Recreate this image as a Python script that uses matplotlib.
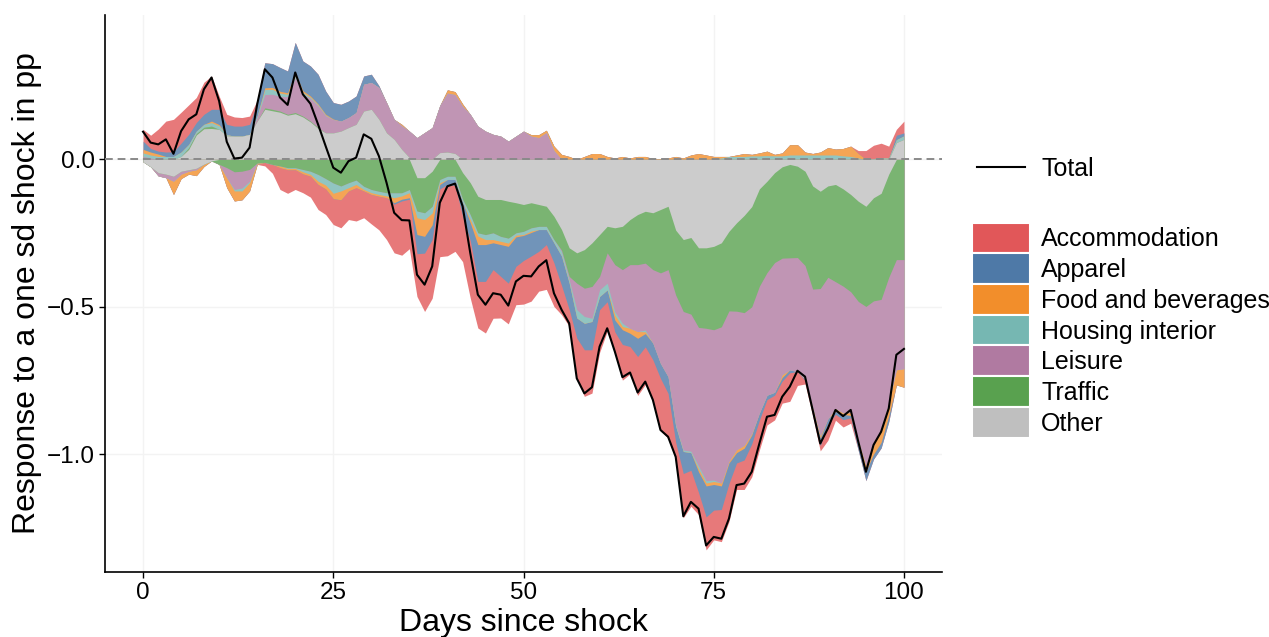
import numpy as np
import matplotlib
matplotlib.use("Agg")
import matplotlib.pyplot as plt
from matplotlib.patches import Rectangle
from matplotlib.lines import Line2D
from matplotlib.colors import to_rgb

plt.rcParams["font.family"] = ["Liberation Sans", "DejaVu Sans"]

# ---------------- data ----------------
days = np.arange(0, 101)

total = [0.094, 0.057, 0.051, 0.068, 0.019, 0.096, 0.136, 0.153, 0.238, 0.278,
         0.198, 0.060, 0.003, 0.006, 0.040, 0.187, 0.306, 0.278, 0.210, 0.185,
         0.295, 0.221, 0.189, 0.119, 0.045, -0.028, -0.045, -0.006, 0.006, 0.085,
         0.070, 0.011, -0.079, -0.181, -0.206, -0.207, -0.391, -0.425, -0.363, -0.147,
         -0.091, -0.082, -0.159, -0.317, -0.459, -0.493, -0.454, -0.459, -0.496, -0.414,
         -0.395, -0.397, -0.363, -0.342, -0.454, -0.510, -0.556, -0.743, -0.794, -0.773,
         -0.635, -0.573, -0.652, -0.739, -0.723, -0.791, -0.754, -0.816, -0.918, -0.941,
         -1.009, -1.211, -1.162, -1.185, -1.310, -1.281, -1.287, -1.219, -1.105, -1.100,
         -1.060, -0.964, -0.873, -0.867, -0.805, -0.771, -0.717, -0.737, -0.850, -0.964,
         -0.913, -0.850, -0.871, -0.850, -0.958, -1.060, -0.969, -0.924, -0.845, -0.663,
         -0.643]

# positive contributions
other_up = [0, 0, 0, 0, 0, .01, .034, .083, .104, .105,
            .102, .08, .079, .079, .085, .13, .17, .165, .16, .15,
            .155, .144, .127, .105, .09, .09, .096, .108, .119, .164,
            .17, .136, .09, .068, .034, .006, 0, 0, 0, .023,
            .025, .02, 0, 0, 0, 0, 0, 0, 0, 0,
            0, 0, 0, 0, 0, 0, 0, 0, 0, 0,
            0, 0, 0, 0, 0, 0, 0, 0, 0, 0,
            0, 0, 0, 0, 0, 0, 0, 0, 0, 0,
            0, 0, 0, 0, 0, 0, 0, 0, 0, 0,
            0, 0, 0, 0, 0, 0, 0, 0, 0, .057,
            .068]
traffic_up = [0, 0, 0, 0, 0, 0, .006, .005, .005, .008,
              0, 0, 0, 0, 0, 0, .005, .005, .004, .003,
              .004, .003, .003, .003] + [0] * 77
leisure_up = [.01, .005, 0, 0, 0, 0, 0, 0, 0, 0,
              0, 0, 0, 0, 0, .012, .045, .051, .05, .06,
              .118, .074, .077, .074, .058, .045, .034, .034, .04, .091,
              .091, .108, .103, .068, .08, .09, .074, .091, .108, .16,
              .2, .2, .18, .153, .113, .096, .085, .079, .062, .079,
              .096, .079, .074, .091, .03] + [0] * 46
housing_up = [.012, .01, .01, .01, .01, .015, .011, .008, .01, .012,
              .012, .004, 0, 0, 0, .006, .017, .017, .011, .008,
              .006, .006, .004, .003, .002, 0, 0, 0, 0, 0] + [0] * 46 + \
             [.005, .01, .01, .01, .012, .012, .013, .012, .012, .015,
              .015, .015, .015, .015, .015, .015, .012, .01, .005, 0,
              .003, .005, .005, .01, .012]
food_up = [.012, .01, .008, 0, 0, 0, 0, 0, 0, .005,
           .004, 0, 0, 0, 0, 0, .006, .006, .006, .005,
           .012, .006, .004, .003, .003, .002, 0, 0, 0, 0,
           0, 0, 0, 0, .005, 0, 0, 0, 0, 0,
           .011, .01, .008, 0, 0, 0, 0, 0, 0, 0,
           0, .005, .01, .008, .015, .017, .01, 0, .01, .02,
           .02, .01, .005, .01, .005, .01, .01, .003, .003, .005,
           .01, .005, .015, .02, .015, .01, .005, 0, .005, .01,
           .005, .01, .015, .005, .01, .035, .035, .01, .005, .01,
           .025, .02, .025, .035, .015, 0, 0, 0, 0, 0,
           0]
apparel_up = [.028, .012, .01, .015, .016, .03, .034, .029, .034, .04,
              .052, .035, .034, .034, .034, .043, .085, .081, .081, .074,
              .102, .101, .102, .101, .079, .056, .057, .056, .056, .028,
              .028, .006] + [0] * 67 + [.015, .01]
accommodation_up = [.04, .045, .075, .105, .11, .105, .1, .085, .109, .113,
                    .045, .034, .031, .029, .028, .01] + [0] * 78 + \
                   [.01, .03, .045, .05, .04, .02, .04]

# negative contributions
other_down = [-.008, -.025, -.045, -.05, -.057, -.04, -.035, -.03, -.016, -.005,
              0, 0, 0, 0, 0, 0, 0, 0, 0, 0,
              0, 0, 0, 0, 0, 0, 0, 0, 0, 0,
              0, 0, 0, 0, 0, 0, -.062, -.062, -.04, 0,
              0, 0, -.045, -.079, -.125, -.136, -.136, -.136, -.142, -.147,
              -.153, -.147, -.153, -.159, -.193, -.238, -.3, -.317, -.306, -.283,
              -.255, -.227, -.232, -.227, -.204, -.187, -.176, -.181, -.17, -.159,
              -.24, -.272, -.265, -.3, -.3, -.295, -.283, -.244, -.215, -.19,
              -.16, -.1, -.074, -.045, -.025, -.017, -.023, -.04, -.09, -.108,
              -.09, -.085, -.1, -.119, -.142, -.159, -.13, -.115, -.05, 0,
              0]
traffic_down = [0, 0, 0, 0, 0, 0, 0, 0, 0, 0,
                -.017, -.028, -.042, -.04, -.034, -.012, -.01, -.017, -.022, -.028,
                -.028, -.034, -.04, -.051, -.065, -.08, -.09, -.079, -.07, -.091,
                -.102, -.108, -.113, -.113, -.113, -.102, -.113, -.119, -.119, -.068,
                -.057, -.057, -.09, -.108, -.124, -.119, -.113, -.125, -.125, -.102,
                -.091, -.085, -.074, -.068, -.079, -.07, -.097, -.103, -.131, -.148,
                -.142, -.09, -.125, -.147, -.153, -.17, -.176, -.193, -.215, -.215,
                -.22, -.244, -.26, -.27, -.273, -.283, -.285, -.27, -.3, -.33,
                -.34, -.33, -.31, -.305, -.31, -.317, -.31, -.32, -.35, -.33,
                -.31, -.33, -.33, -.33, -.34, -.34, -.35, -.36, -.35, -.34,
                -.34]
leisure_down = [0, 0, -.011, -.012, -.017, -.01, -.005, -.005, 0, 0,
                0, -.034, -.06, -.057, -.04] + [0] * 40 + \
               [-.005, -.011, -.09, -.096, -.108,
                -.045, -.103, -.16, -.182, -.216, -.227, -.227, -.249, -.307, -.363,
                -.44, -.47, -.465, -.47, -.517, -.51, -.53, -.51, -.47, -.45,
                -.43, -.43, -.416, -.44, -.395, -.38, -.387, -.385, -.4, -.5,
                -.48, -.43, -.43, -.41, -.47, -.54, -.49, -.44, -.425, -.374,
                -.37]
housing_down = [0] * 12 + [-.005, -.01, -.005, 0, 0, 0, 0, -.003,
                           -.003, -.008, -.011, -.023, -.022, -.035, -.017, -.017, -.015, -.011,
                           -.011, -.011, -.011, -.017, -.011, -.011, -.023, -.023, -.023, -.011,
                           -.011, -.011, -.011, -.017, -.011, -.017, -.023, -.017, -.017, -.008,
                           -.011, -.011, -.011, -.011, -.011, -.015, -.011, -.028, -.023, -.011,
                           -.023, -.023, -.011, -.011, 0, 0, -.006, 0, 0, 0,
                           -.005, -.005, -.005, -.01, -.008, -.005] + [0] * 25
food_down = [0, 0, 0, 0, -.045, -.015, -.01, -.02, -.008, 0,
             0, -.034, -.034, -.03, -.028, -.005, 0, 0, -.006, -.004,
             -.004, -.007, -.006, -.011, -.013, -.018, -.03, -.011, -.011, -.005,
             -.006, -.006, -.006, -.017, -.011, -.017, -.057, -.057, -.04, -.006,
             0, 0, 0, -.011, -.029, -.017, -.011, -.011, -.011, -.006,
             -.003, -.005, 0, 0, 0, 0, 0, 0, 0, 0,
             0, 0, -.017, -.011, -.017, -.023, -.006, 0, 0, 0,
             0, 0, 0, -.01, -.01, -.01, -.01, -.006, -.01, -.01,
             -.005, 0, 0, 0, -.01, 0, 0, 0, -.01, -.008,
             0, -.01, -.005, -.01, -.015, -.02, -.03, -.045, -.045, -.051,
             -.063]
apparel_down = [0] * 33 + [-.005, -.006, -.005, -.065, -.057, -.05, -.015,
                           -.017, -.02, -.047, -.06, -.125, -.125, -.091, -.108, -.125, -.1,
                           -.085, -.08, -.074, -.051, -.068, -.1, -.09, -.068, -.09, -.096,
                           -.045, -.04, -.04, -.05, -.045, -.062, -.045, -.057, -.051, -.057,
                           -.055, -.075, -.06, -.07, -.105, -.087, -.08, -.07, -.035, -.04,
                           -.03, -.025, -.015, -.01, -.012, -.01, 0, -.005, -.015, -.025,
                           -.018, -.01, -.018, -.008, -.021, -.031, -.017, -.019, -.02, 0,
                           0]
accommodation_down = [0] * 16 + [-.012, -.03, -.074, -.08,
                                 -.067, -.064, -.071, -.085, -.087, -.088, -.095, -.097, -.113, -.091,
                                 -.1, -.114, -.142, -.165, -.184, -.168, -.145, -.198, -.199, -.23,
                                 -.242, -.224, -.154, -.195, -.158, -.175, -.165, -.141, -.138, -.13,
                                 -.148, -.153, -.135, -.152, -.148, -.099, -.057, -.137, -.158, -.147,
                                 -.145, -.1, -.072, -.121, -.093, -.132, -.128, -.139, -.178, -.152,
                                 -.059, -.15, -.122, -.075, -.112, -.101, -.109, -.129, -.09, -.1,
                                 -.112, -.101, -.086, -.084, -.075, -.097, -.047, -.012, -.005, -.018,
                                 -.055, -.02, -.025, -.018] + [0] * 7

labels = ["Accommodation", "Apparel", "Food and beverages", "Housing interior",
          "Leisure", "Traffic", "Other"]
colors = ["#E15759", "#4E79A7", "#F28E2B", "#76B7B2", "#B07AA1", "#59A14F", "#BFBFBF"]

ups = {"Accommodation": accommodation_up, "Apparel": apparel_up,
       "Food and beverages": food_up, "Housing interior": housing_up,
       "Leisure": leisure_up, "Traffic": traffic_up, "Other": other_up}
downs = {"Accommodation": accommodation_down, "Apparel": apparel_down,
         "Food and beverages": food_down, "Housing interior": housing_down,
         "Leisure": leisure_down, "Traffic": traffic_down, "Other": other_down}


def faded(c, a=0.8):
    r = np.array(to_rgb(c))
    return tuple(a * r + (1 - a))


# ---------------- figure ----------------
W, H = 1269, 637
fig = plt.figure(figsize=(W / 100, H / 100), dpi=100)
ax = fig.add_axes([105 / W, 65 / H, (942 - 105) / W, (572 - 15) / H])

# stack from zero outward: Other first, Accommodation last
stack_order = labels[::-1]
for side in (ups, downs):
    cum = np.cumsum(np.array([side[k] for k in stack_order], dtype=float), axis=0)
    # outermost first so the inner layers cover the seams
    for k in range(len(stack_order) - 1, -1, -1):
        col = faded(colors[labels.index(stack_order[k])])
        ax.fill_between(days, 0, cum[k], color=col, lw=0, zorder=2)

ax.axhline(0, color="#8a8a8a", lw=1.4, ls=(0, (4, 2.5)), zorder=3)
ax.plot(days, total, color="black", lw=1.5, zorder=4)

ax.set_xlim(-5, 105)
ax.set_ylim(-1.40, 0.49)
ax.set_xticks([0, 25, 50, 75, 100])
ax.set_yticks([-1.0, -0.5, 0.0])
ax.set_yticklabels(["\u22121.0", "\u22120.5", "0.0"])
ax.grid(True, color="#f3f3f3", lw=1.0)
ax.set_axisbelow(True)
for s in ("top", "right"):
    ax.spines[s].set_visible(False)
for s in ("left", "bottom"):
    ax.spines[s].set_linewidth(1.2)
ax.tick_params(length=4, width=1.0, labelsize=17.5, colors="black", pad=3)
ax.set_xlabel("Days since shock", fontsize=23, labelpad=3)
ax.set_ylabel("Response to a one sd shock in pp", fontsize=23, labelpad=4)

# ---------------- legend ----------------
lax = fig.add_axes([0, 0, 1, 1])
lax.set_xlim(0, W)
lax.set_ylim(H, 0)
lax.axis("off")
lax.add_line(Line2D([977, 1025], [167, 167], color="black", lw=1.5))
lax.text(1041, 168.5, "Total", fontsize=18, va="center", ha="left")
y0, step = 238, 30.7
for i, (lab, c) in enumerate(zip(labels, colors)):
    yc = y0 + i * step
    lax.add_patch(Rectangle((972, yc - step / 2), 58, step, facecolor=c,
                            edgecolor="white", lw=1.5))
    lax.text(1041, yc + 1.5, lab, fontsize=18, va="center", ha="left")

fig.savefig("out.png", dpi=100)
